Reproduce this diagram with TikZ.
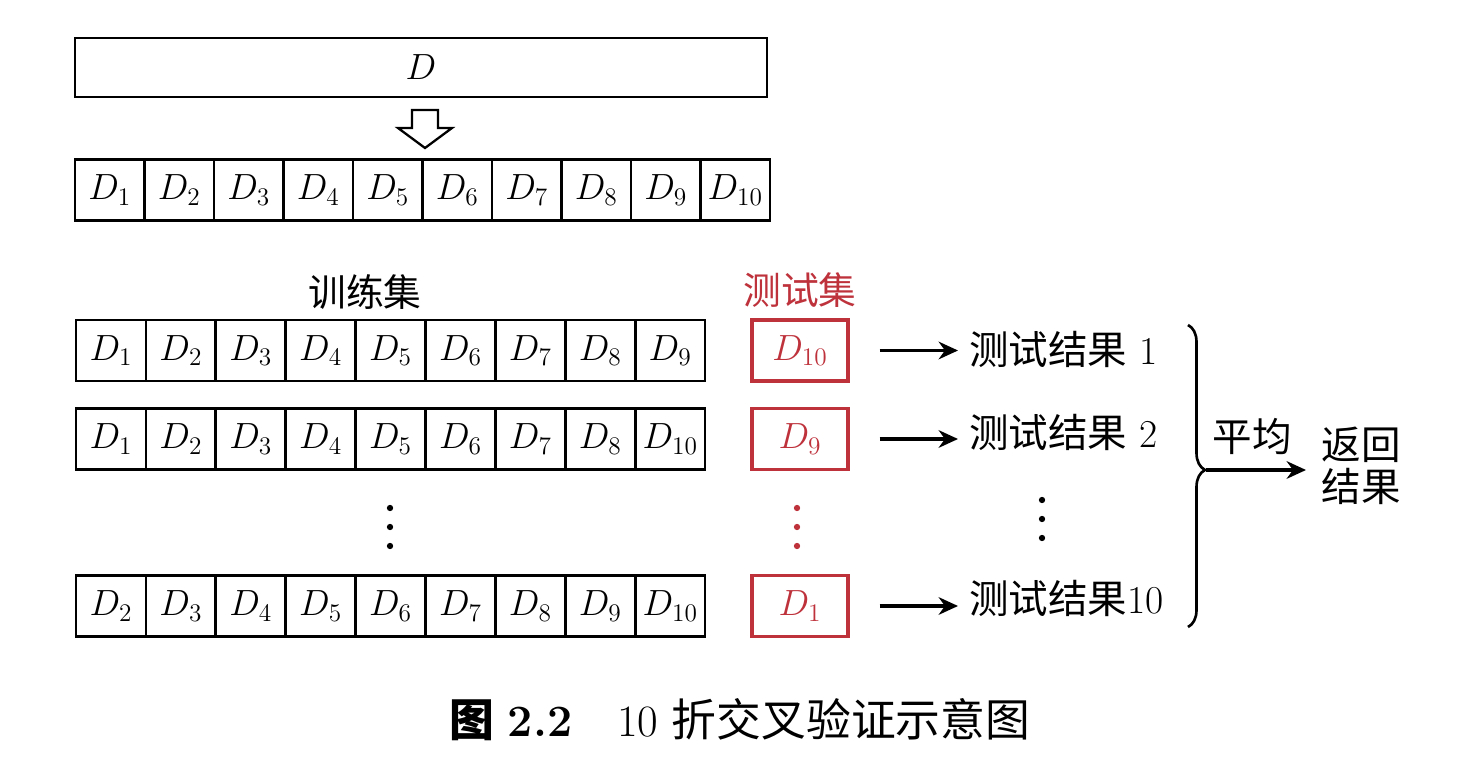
\documentclass[tikz,border=0pt]{standalone}
\usepackage{fontspec}
\newfontfamily\cjk{Noto Sans CJK SC}
\usetikzlibrary{arrows.meta,positioning,decorations.pathreplacing,calc}
\definecolor{testred}{RGB}{190,50,60}

\begin{document}
\begin{tikzpicture}[x=0.02cm, y=-0.02cm, every node/.style={font=\fontsize{21.5}{25}\selectfont},
    cell/.style={draw, line width=1.5pt, minimum width=1.4cm, minimum height=1.22cm, inner sep=0pt},
    testbox/.style={draw=testred, line width=1.8pt, minimum width=1.92cm, minimum height=1.22cm, text=testred, inner sep=0pt},
    resarrow/.style={-{Stealth[length=11pt, width=10pt]}, line width=1.8pt, shorten <=0.6cm, shorten >=0.1cm}]
    \useasboundingbox (0,0) rectangle (1477,776);

    % Whole data set and split
    \node[draw, line width=1.5pt, minimum width=13.84cm, minimum height=1.18cm] (data) at (421,67.5) {$D$};
    \draw[line width=1.3pt] (412,110) -- (438,110) -- (438,128) -- (452,128) -- (425,148)
        -- (398,128) -- (412,128) -- cycle;
    \foreach \i in {1,...,10}
        \node[cell, minimum width=1.39cm] (s\i) at ({75+69.5*(\i-0.5)},190) {$D_{\i}$};

    % Training sets
    \node (trainlbl) at (365,292) {\cjk 训练集};
    \foreach \i in {1,...,9}
        \node[cell] (a\i) at ({76+69.9*(\i-0.5)},350.5) {$D_{\i}$};
    \foreach [count=\j] \k in {1,...,8,10}
        \node[cell] (b\j) at ({76+69.9*(\j-0.5)},439) {$D_{\k}$};
    \foreach [count=\j] \k in {2,...,10}
        \node[cell] (c\j) at ({76+69.9*(\j-0.5)},606) {$D_{\k}$};
    \foreach \y in {508,527,546}
        \fill (390,\y) circle (1.8pt);

    % Test sets
    \node[text=testred] (testlbl) at (800,290) {\cjk 测试集};
    \node[testbox] (ta) at (800,350.5) {$D_{10}$};
    \node[testbox] (tb) at (800,439) {$D_{9}$};
    \node[testbox] (tc) at (800,606) {$D_{1}$};
    \foreach \y in {508,527,546}
        \fill[testred] (797,\y) circle (1.8pt);

    % Results
    \node[anchor=west, font=\fontsize{22.5}{26}\selectfont] (ra) at (963,349) {{\cjk 测试结果} 1};
    \node[anchor=west, font=\fontsize{22.5}{26}\selectfont] (rb) at (963,432) {{\cjk 测试结果} 2};
    \node[anchor=west, font=\fontsize{22.5}{26}\selectfont] (rc) at (963,598) {{\cjk 测试结果}10};
    \draw[resarrow] (ta.east) -- (ra.west |- ta.east);
    \draw[resarrow] (tb.east) -- (rb.west |- tb.east);
    \draw[resarrow] (tc.east) -- (rc.west |- tc.east);
    \foreach \y in {500,519,538}
        \fill (1042,\y) circle (1.8pt);

    % Average
    \draw[decorate, decoration={brace, amplitude=0.34cm, aspect=0.48}, line width=1.5pt]
        (1188,325) -- (1188,627);
    \coordinate (tip) at (1206,470);
    \node[font=\fontsize{22.5}{26}\selectfont\cjk] (avg) at (1252,437) {平均};
    \node[align=center, font=\fontsize{22.5}{24}\selectfont\cjk] (ret) at (1361,466) {返回\\结果};
    \draw[resarrow, shorten <=0pt, shorten >=0pt] (tip) -- (1306,470);

    % Caption
    \node[font=\fontsize{25.5}{30}\selectfont] (cap) at (740,720) {{\cjk\bfseries 图} \textbf{2.2}\quad 10 {\cjk 折交叉验证示意图}};
\end{tikzpicture}
\end{document}
